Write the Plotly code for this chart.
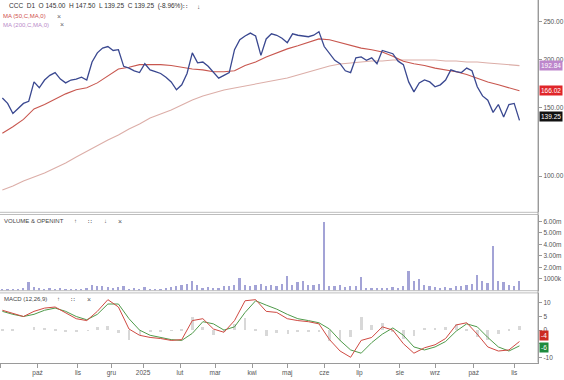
import numpy as np
import pandas as pd
import plotly.graph_objects as go

W, H = 564, 380

# ---------------- data ----------------
first_day, last_day = "2024-09-02", "2025-11-06"
holidays = ["2024-11-01", "2024-11-11", "2024-12-24", "2024-12-25", "2024-12-26", "2024-12-31",
            "2025-01-01", "2025-01-06", "2025-04-18", "2025-04-21", "2025-05-01", "2025-06-19",
            "2025-08-15", "2025-11-11"]

# closing prices, one reading every 3rd session (last = last session)
close = [159, 154, 145, 149, 154, 156, 175, 169, 177, 182,
         185, 178, 174, 177, 178, 180, 177, 197, 208, 214,
         216, 211, 212, 192, 190, 187, 185, 195, 188, 186,
         184, 180, 175, 167, 172, 184, 208, 196, 197, 192,
         185, 179, 182, 185, 212, 225, 230, 234, 230, 205,
         226, 233, 231, 227, 221, 233, 231, 230, 229, 231,
         236, 216, 207, 199, 195, 187, 185, 202, 203, 199,
         202, 195, 211, 209, 207, 198, 194, 175, 165, 174,
         177, 175, 170, 172, 177, 188, 186, 185, 190, 187,
         170, 161, 157, 146, 153, 142, 153, 154, 139.25]

# volume in millions, same sessions as close
volume_m = [0.15, 0.2, 0.15, 0.2, 0.25, 0.8, 0.35, 0.25, 0.2, 0.3,
            0.2, 0.25, 0.15, 0.2, 0.15, 0.2, 0.25, 0.5, 0.45, 0.4,
            0.35, 0.3, 0.35, 0.4, 0.2, 0.25, 0.2, 0.35, 0.2, 0.15,
            0.2, 0.25, 0.35, 0.4, 0.5, 0.6, 0.9, 0.55, 0.3, 0.35,
            0.3, 0.25, 0.4, 0.45, 0.55, 1.1, 0.5, 0.45, 0.55, 0.6,
            0.45, 0.5, 0.45, 0.6, 1.3, 0.5, 0.8, 0.85, 0.5, 0.55,
            0.6, 6.0, 0.45, 0.4, 0.5, 0.35, 0.45, 0.4, 1.2, 0.3,
            0.25, 0.3, 0.25, 0.3, 0.35, 0.3, 0.45, 1.7, 0.9, 1.0,
            0.5, 0.4, 0.35, 0.3, 0.35, 0.3, 0.4, 0.45, 0.5, 0.6,
            1.4, 0.9, 0.7, 3.9, 0.9, 0.8, 0.5, 0.4, 0.85]

# indicators, one reading every 6th session (last = last session)
ma50 = [129, 134, 140, 149, 153, 158, 163, 167, 169, 174,
        181, 189, 191, 194, 194, 194, 193, 191, 189, 188,
        186, 186, 187, 193, 197, 203, 208, 213, 217, 221,
        226, 225, 221, 217, 214, 212, 209, 204, 198, 195,
        193, 190, 188, 186, 183, 179, 175, 172, 169, 166.02]
ma200 = [92.0, 94.2, 97.1, 99.4, 101.8, 104.9, 108.0, 112.0, 116.0, 120.2,
         123.9, 127.6, 132.3, 136.2, 141.2, 144.6, 148.1, 152.6, 157.2, 160.9,
         163.8, 166.8, 168.8, 170.8, 172.9, 174.9, 177.0, 179.1, 182.4, 185.6,
         189.0, 192.4, 194.7, 195.9, 197.0, 198.2, 198.2, 199.4, 199.4, 199.4,
         199.4, 199.4, 198.2, 198.2, 197.0, 197.0, 195.9, 194.7, 193.6, 192.84]
macd = [7.3, 6.2, 5.0, 6.9, 8.1, 8.5, 6.2, 4.2, 3.5, 6.9,
        11.2, 8.5, 0.4, -1.9, -2.7, -3.1, -3.8, -3.5, 3.5, 4.2,
        0.4, -0.8, 3.5, 10.8, 11.2, 6.9, 6.5, 4.2, 3.5, 3.1,
        2.3, -3.5, -7.7, -10.0, -3.8, -2.7, 1.2, 0.0, -5.0, -8.5,
        -6.5, -5.4, -3.1, 1.9, 2.7, -1.5, -6.2, -7.7, -7.3, -4.2]
signal = [6.9, 5.8, 5.0, 5.8, 7.3, 8.1, 6.9, 5.0, 3.8, 5.8,
          9.6, 9.6, 4.2, 0.0, -1.9, -2.7, -3.5, -3.8, -1.2, 3.1,
          2.3, 0.0, 1.2, 6.5, 10.8, 9.2, 7.7, 5.8, 4.2, 3.5,
          2.7, 0.4, -3.8, -7.3, -8.5, -4.6, -1.5, 0.8, -1.9, -6.2,
          -7.3, -6.2, -4.2, -0.4, 2.3, 1.2, -2.7, -6.2, -7.7, -5.8]

tick_dates = ["2024-09-02", "2024-10-01", "2024-11-04", "2024-12-02", "2025-01-02", "2025-02-03",
              "2025-03-03", "2025-04-01", "2025-05-02", "2025-06-02", "2025-07-01", "2025-08-01",
              "2025-09-01", "2025-10-01", "2025-11-03"]
tick_labels = ["wrz", "paź", "lis", "gru", "2025", "lut", "mar", "kwi", "maj", "cze", "lip", "sie",
               "wrz", "paź", "lis"]

price_ticks = [100, 150, 200, 250]
vol_ticks_m = [1, 2, 3, 4, 5, 6]
vol_tick_text = ["1000k", "2.00m", "3.00m", "4.00m", "5.00m", "6.00m"]
macd_ticks = [-10, -5, 0, 5, 10]
macd_tick_text = ["-10", "", "0", "5", "10"]   # "-5" sits under the signal value box

symbol, interval = "CCC", "D1"
last_open, last_high, last_low, last_close, last_change = 145.00, 147.50, 139.25, 139.25, -8.96

# ---------------- session calendar ----------------
days = pd.bdate_range(first_day, last_day)
days = days[~days.isin(pd.to_datetime(holidays))]
d3 = days[len(days) - 1 - 3 * (len(close) - 1)::3]
d6 = days[len(days) - 1 - 6 * (len(ma50) - 1)::6]
hist = [m - s for m, s in zip(macd, signal)]

# ---------------- geometry helpers ----------------
def py(p):  # pixel y -> paper
    return 1 - p / H

def px(p):  # pixel x -> paper
    return p / W

XR = 540
FONT = "Liberation Sans, Arial, sans-serif"
GRAY = "#9a9a9a"
TXT = "#555555"

fig = go.Figure()
fig.add_trace(go.Scatter(x=d6, y=ma200, mode="lines", line=dict(color="#dcaea8", width=1.1),
                         xaxis="x", yaxis="y", hoverinfo="skip"))
fig.add_trace(go.Scatter(x=d6, y=ma50, mode="lines", line=dict(color="#c8574f", width=1.1),
                         xaxis="x", yaxis="y", hoverinfo="skip"))
fig.add_trace(go.Scatter(x=d3, y=close, mode="lines", line=dict(color="#3a4890", width=1.3),
                         xaxis="x", yaxis="y"))
fig.add_trace(go.Bar(x=d3, y=[v * 1e6 for v in volume_m], marker=dict(color="#a3a3d6", line=dict(width=0)),
                     width=1.0 * 86400000, xaxis="x", yaxis="y2"))
fig.add_trace(go.Bar(x=d6, y=hist, marker=dict(color="#d8d8d8", line=dict(width=0)),
                     width=1.6 * 86400000, xaxis="x", yaxis="y3"))
fig.add_trace(go.Scatter(x=d6, y=signal, mode="lines", line=dict(color="#4f9a4a", width=1.0),
                         xaxis="x", yaxis="y3"))
fig.add_trace(go.Scatter(x=d6, y=macd, mode="lines", line=dict(color="#cf4a42", width=1.0),
                         xaxis="x", yaxis="y3"))

ytick = dict(family=FONT, size=6.5, color=TXT)
common_y = dict(side="right", anchor="x", showgrid=False, zeroline=False, showline=True,
                linecolor=GRAY, linewidth=1, ticks="outside", ticklen=3, tickcolor=GRAY,
                tickfont=ytick, fixedrange=True)

fig.update_layout(
    width=W, height=H, margin=dict(l=0, r=0, t=0, b=0),
    paper_bgcolor="white", plot_bgcolor="white", showlegend=False, bargap=0,
    xaxis=dict(domain=[0, px(XR)], anchor="y3", type="date",
               range=["2024-08-30 16:00", "2025-11-21 14:00"],
               rangebreaks=[dict(bounds=["sat", "mon"]), dict(values=holidays)],
               tickvals=tick_dates, ticktext=tick_labels, showgrid=False, zeroline=False,
               showline=True, linecolor=GRAY, ticks="outside", ticklen=4, tickcolor=GRAY,
               tickfont=dict(family=FONT, size=6.5, color=TXT)),
    yaxis=dict(domain=[py(212), 1], type="log",
               range=[np.log10(80.72), np.log10(284.9)],
               tickvals=price_ticks, tickformat=".2f", **common_y),
    yaxis2=dict(domain=[py(290.5), py(214.5)], range=[0, 6.6e6],
                tickvals=[v * 1e6 for v in vol_ticks_m], ticktext=vol_tick_text, **common_y),
    yaxis3=dict(domain=[py(362.5), py(293)], range=[-11.92, 13.65],
                tickvals=macd_ticks, ticktext=macd_tick_text, **common_y),
)

shapes = []
for p in (212.3, 214.5, 290.7, 292.9):
    shapes.append(dict(type="line", xref="paper", yref="paper", x0=0, x1=px(XR), y0=py(p), y1=py(p),
                       line=dict(color="#bdbdbd", width=1)))
shapes.append(dict(type="line", xref="paper", yref="paper", x0=px(XR), x1=px(XR), y0=py(362.5), y1=1,
                   line=dict(color=GRAY, width=1)))
fig.update_layout(shapes=shapes)

ann = []
def text(x, y, s, color="#333333", size=6.5):
    ann.append(dict(xref="paper", yref="paper", x=px(x), y=py(y), text=s, showarrow=False,
                    xanchor="left", yanchor="middle", font=dict(family=FONT, size=size, color=color)))

hdr = (f"{symbol}  {interval}  O {last_open:.2f}  H {last_high:.2f}  L {last_low:.2f}  "
       f"C {last_close:.2f}  ({last_change:.2f}%)")
text(7, 6, hdr, "#333333", 6.5)
text(182, 6, "∷", "#555555", 6.5)
text(196, 6, "↓", "#555555", 6.5)
text(1, 16, "MA (50,C,MA,0)", "#d0504a", 6)
text(55, 16, "×", "#666666", 7)
text(1, 25, "MA (200,C,MA,0)", "#b989c8", 6)
text(58, 25, "×", "#666666", 7)
text(2, 221, "VOLUME &amp; OPENINT", "#444444", 6)
text(72, 221, "↑", "#555555", 6)
text(86, 221, "∷", "#555555", 6)
text(102, 221, "↓", "#555555", 6)
text(116, 221, "×", "#555555", 7)
text(2, 299, "MACD (12,26,9)", "#444444", 6)
text(55, 299, "↑", "#555555", 6)
text(69, 299, "∷", "#555555", 6)
text(85, 299, "×", "#555555", 7)

def box(yref, yval, s, bg, fg="white", yshift=0):
    ann.append(dict(xref="paper", yref=yref, x=px(XR + 1), y=yval, text=s, showarrow=False,
                    xanchor="left", yanchor="middle", bgcolor=bg, borderpad=1, yshift=yshift,
                    font=dict(family=FONT, size=6.5, color=fg)))

box("y", np.log10(ma200[-1]), f"{ma200[-1]:.2f}", "#bd86cc")
box("y", np.log10(ma50[-1]), f"{ma50[-1]:.2f}", "#e0262a")
box("y", np.log10(close[-1]), f"{close[-1]:.2f}", "#111111", yshift=4)
box("y3", macd[-1], f"{macd[-1]:.0f}", "#cc2a22", yshift=6)
box("y3", signal[-1], f"{signal[-1]:.0f}", "#1f8a3c", yshift=-2)
fig.update_layout(annotations=ann)

fig.write_html("out.html")
